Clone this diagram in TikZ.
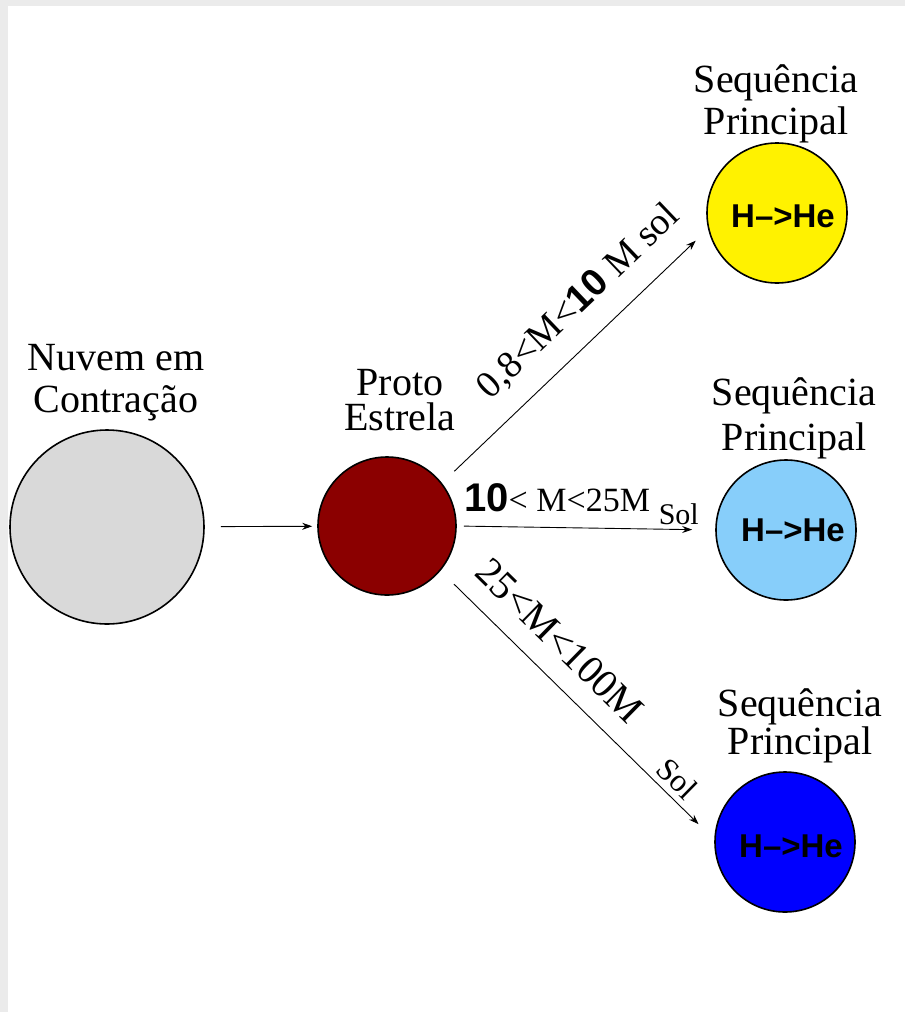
\documentclass[tikz,border=0pt]{standalone}
\usepackage{fontspec}
\setmainfont{Liberation Serif}
\newfontfamily\sansfont{Liberation Sans}
\usetikzlibrary{arrows.meta}
\definecolor{moldura}{HTML}{EBEBEB}
\definecolor{cinzanuvem}{HTML}{D9D9D9}
\definecolor{vermelhoproto}{HTML}{8B0000}
\definecolor{azulclaro}{HTML}{87CEFA}
\newcommand{\dez}[1]{{\sansfont\bfseries\fontsize{#1}{#1}\selectfont 10}}
\begin{document}
\begin{tikzpicture}[x=1pt,y=-1pt,
  estrela/.style={circle,draw,line width=1.6pt,inner sep=0pt,minimum size=140pt},
  rotulo/.style={align=center,font=\fontsize{40}{42}\selectfont},
  seta/.style={-{Stealth[length=10pt,width=7pt]},line width=.9pt},
  faixa/.style={inner sep=0pt},
  hhe/.style={font=\sansfont\bfseries\fontsize{33}{33}\selectfont}]
\fill[moldura] (0,0) rectangle (905,1012);
\fill[white] (8,6) rectangle (905,1012);
\useasboundingbox (0,0) rectangle (905,1012);

\node[estrela,fill=cinzanuvem,minimum size=194pt] (nuvem) at (107,527) {};
\node[estrela,fill=vermelhoproto,minimum size=138pt] (proto) at (387,526) {};
\node[estrela,fill=yellow] (seqA) at (777,213) {};
\node[estrela,fill=azulclaro] (seqB) at (786,530) {};
\node[estrela,fill=blue] (seqC) at (785,842) {};

\node[hhe] (heA) at (783,216) {H\textendash>He};
\node[hhe] (heB) at (793,530) {H\textendash>He};
\node[hhe] (heC) at (791,846) {H\textendash>He};

\node[rotulo,anchor=base] (tnuvem) at (116,412) {Nuvem em\\Contração};
\node[rotulo,anchor=base] (tproto) at (400,430) {Proto\\[-7pt]Estrela};
\node[rotulo,anchor=base] (tseqA) at (776,134) {Sequência\\Principal};
\node[rotulo,anchor=base] (tseqB) at (794,450) {Sequência\\[3pt]Principal};
\node[rotulo,anchor=base] (tseqC) at (800,754) {Sequência\\[-4pt]Principal};

\draw[seta,shorten <=16pt,shorten >=5pt] (nuvem) -- (proto);
\draw[seta,shorten <=17pt,shorten >=17pt] (proto.38) -- (seqA.193)
  node[faixa,sloped,above=20pt,pos=.61,font=\fontsize{38}{38}\selectfont] (fA) {0,8<M<\dez{38} M sol};
\draw[seta,shorten <=7pt,shorten >=23pt] (proto.east) -- (seqB.west)
  node[faixa,pos=0,anchor=base west,xshift=7pt,yshift=15pt,font=\fontsize{34}{34}\selectfont] (fB) {\dez{40}< M<25M}
  node[faixa,pos=.78,anchor=base west,yshift=5pt,font=\fontsize{30}{30}\selectfont] (sB) {Sol};
\draw[seta,shorten <=19pt,shorten >=22pt] (proto.-40) -- (seqC.178)
  node[faixa,sloped,above=20pt,pos=.35,font=\fontsize{40}{40}\selectfont] (fC) {25<M<100M}
  node[faixa,sloped,above=6pt,pos=.82,font=\fontsize{32}{32}\selectfont] (sC) {Sol};
\end{tikzpicture}
\end{document}
